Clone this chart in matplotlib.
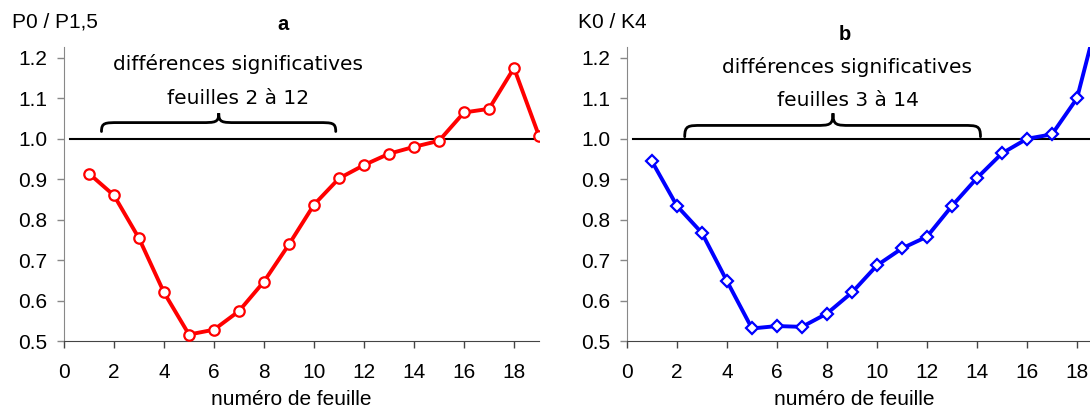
import numpy as np
import matplotlib.pyplot as plt
from matplotlib.path import Path
from matplotlib.patches import PathPatch

# leaf number
feuilles = list(range(1, 20))

# panel a : P0 / P1,5
ratio_p = [0.914, 0.860, 0.754, 0.620, 0.516, 0.528, 0.574, 0.647, 0.739, 0.837,
           0.902, 0.935, 0.963, 0.980, 0.995, 1.065, 1.074, 1.175, 1.007]

# panel b : K0 / K4
ratio_k = [0.944, 0.834, 0.767, 0.648, 0.531, 0.537, 0.535, 0.568, 0.620, 0.687,
           0.729, 0.758, 0.834, 0.903, 0.964, 1.000, 1.011, 1.100, 1.340]

xticks = list(range(0, 20, 2))
yticks = [0.5, 0.6, 0.7, 0.8, 0.9, 1.0, 1.1, 1.2]

tick_font = "Liberation Sans"
note_font = "DejaVu Sans"


def brace(ax, x0, x1, xm, ye, yh, ytip, dx=0.7) :
    verts = [
        (x0, ye), (x0, yh), (x0 + 0.2 * dx, yh), (x0 + dx, yh),
        (xm - dx, yh),
        (xm - 0.2 * dx, yh), (xm, yh), (xm, ytip),
        (xm, yh), (xm + 0.2 * dx, yh), (xm + dx, yh),
        (x1 - dx, yh),
        (x1 - 0.2 * dx, yh), (x1, yh), (x1, ye),
    ]
    codes = [Path.MOVETO, Path.CURVE4, Path.CURVE4, Path.CURVE4,
             Path.LINETO,
             Path.CURVE4, Path.CURVE4, Path.CURVE4,
             Path.CURVE4, Path.CURVE4, Path.CURVE4,
             Path.LINETO,
             Path.CURVE4, Path.CURVE4, Path.CURVE4]
    ax.add_patch(PathPatch(Path(verts, codes), facecolor="none",
                           edgecolor="black", lw=2.0, capstyle="round"))


def style_axes(ax) :
    ax.set_xlim(0, 19)
    ax.set_ylim(0.5, 1.227)
    ax.set_xticks(xticks)
    ax.set_yticks(yticks, labels=[f"{v:.1f}" for v in yticks])
    for side in ["top", "right"] :
        ax.spines[side].set_visible(False)
    ax.spines["left"].set_color("#888888")
    ax.spines["bottom"].set_color("#444444")
    ax.tick_params(axis="x", direction="out", length=5, width=1,
                   color="#444444", pad=11)
    ax.tick_params(axis="y", direction="out", length=5, width=1,
                   color="#888888", pad=7)
    for lab in ax.get_xticklabels() + ax.get_yticklabels() :
        lab.set_fontfamily(tick_font)
        lab.set_fontsize(15)
    ax.axhline(1.0, xmin=0.012, color="black", lw=1.5, zorder=1)
    ax.set_xlabel("numéro de feuille", fontfamily=tick_font, fontsize=15)
    ax.xaxis.set_label_coords(9.1 / 19, -0.165)


fig = plt.figure(figsize=(10.9, 4.13), dpi=100)
ax_a = fig.add_axes([0.0587, 0.1743, 0.4358, 0.712])
ax_b = fig.add_axes([0.5752, 0.1743, 0.4358, 0.712])

# panel a
style_axes(ax_a)
ax_a.plot(feuilles, ratio_p, color="#ff0000", lw=2.8, marker="o", ms=7.5,
          mfc="white", mec="#ff0000", mew=1.6, zorder=3)
brace(ax_a, 1.5, 10.87, 6.19, 1.018, 1.040, 1.063)
ax_a.text(6.96, 1.184, "différences significatives", ha="center", va="center",
          fontfamily=note_font, fontsize=14.5)
ax_a.text(6.96, 1.100, "feuilles 2 à 12", ha="center", va="center",
          fontfamily=note_font, fontsize=14.5)
fig.text(283 / 1090, 1 - 24 / 413, "a", ha="center", va="center",
         fontfamily=tick_font, fontsize=14.5, fontweight="bold")
fig.text(12 / 1090, 1 - 22 / 413, "P0 / P1,5", ha="left", va="center",
         fontfamily=tick_font, fontsize=15)

# panel b
style_axes(ax_b)
ax_b.plot(feuilles, ratio_k, color="#0000ff", lw=2.8, marker="D", ms=6.5,
          mfc="white", mec="#0000ff", mew=1.6, zorder=3)
brace(ax_b, 2.31, 14.14, 8.24, 1.005, 1.033, 1.063)
ax_b.text(8.82, 1.177, "différences significatives", ha="center", va="center",
          fontfamily=note_font, fontsize=14.5)
ax_b.text(8.84, 1.094, "feuilles 3 à 14", ha="center", va="center",
          fontfamily=note_font, fontsize=14.5)
fig.text(845 / 1090, 1 - 35 / 413, "b", ha="center", va="center",
         fontfamily=tick_font, fontsize=14.5, fontweight="bold")
fig.text(578 / 1090, 1 - 22 / 413, "K0 / K4", ha="left", va="center",
         fontfamily=tick_font, fontsize=15)

fig.savefig("out.png", dpi=100)
